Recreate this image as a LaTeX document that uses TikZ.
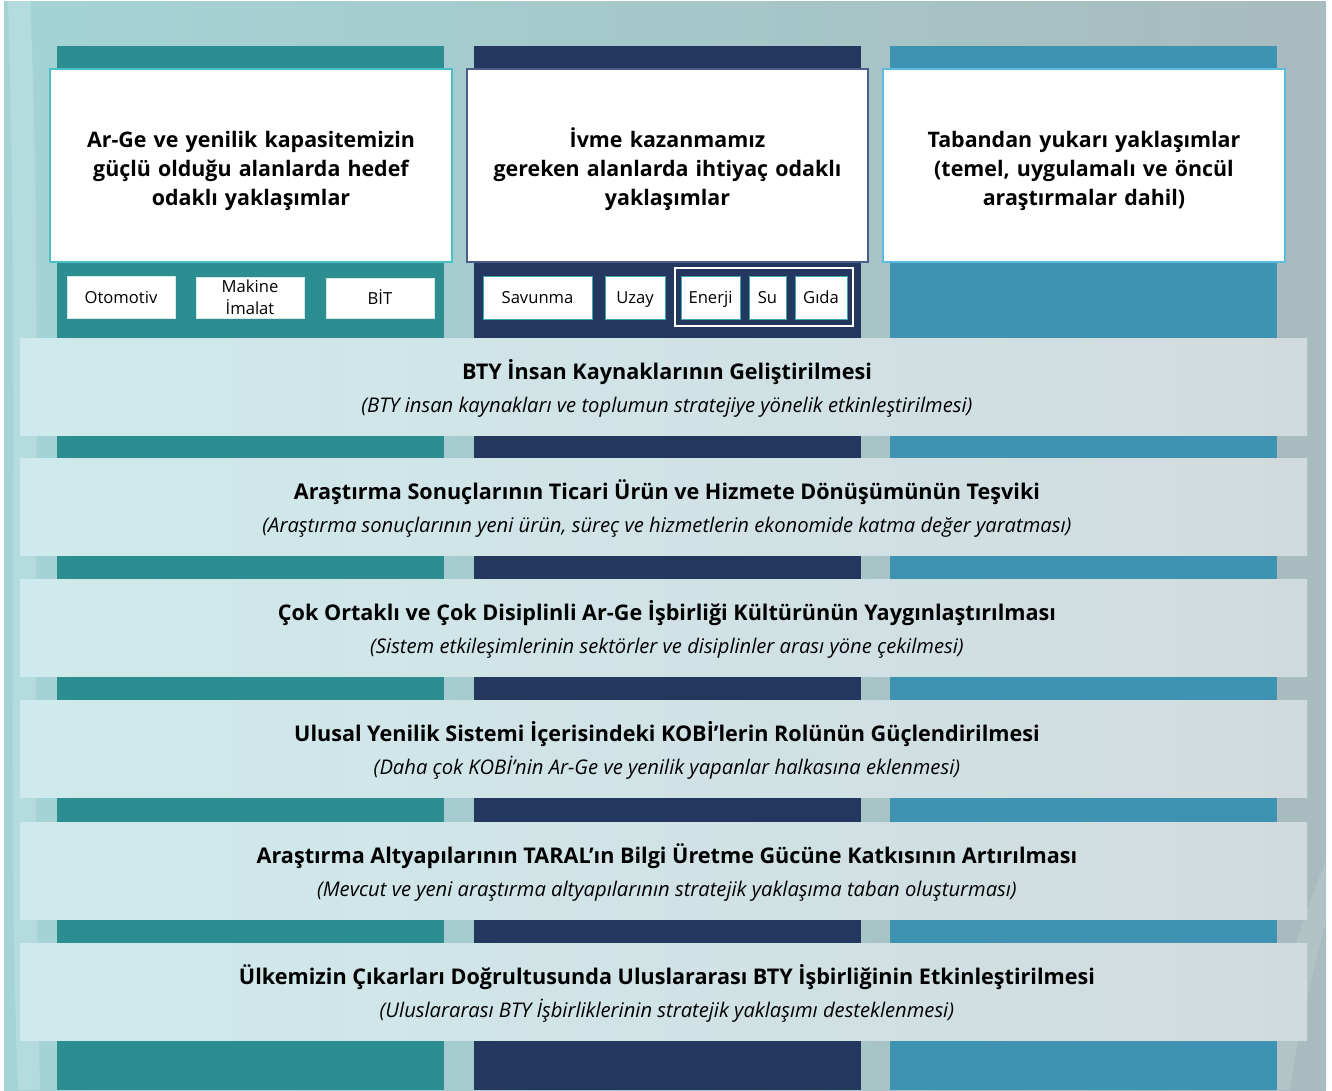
\documentclass[tikz,border=0pt]{standalone}
\usepackage{fontspec}
\setmainfont{Open Sans}
\definecolor{bgA}{HTML}{A4D4D6}
\definecolor{bgB}{HTML}{A4C5C6}
\definecolor{bgC}{HTML}{A8BBBE}
\definecolor{tealc}{HTML}{2C8E91}
\definecolor{navyc}{HTML}{24375E}
\definecolor{bluec}{HTML}{3E93B2}
\definecolor{bandA}{HTML}{CFEAEC}
\definecolor{bandB}{HTML}{D4E2E4}
\definecolor{bandC}{HTML}{D1DBDE}
\definecolor{tealline}{HTML}{4BBFC6}
\definecolor{navyline}{HTML}{4C5C8C}
\definecolor{blueline}{HTML}{5BBBE0}
\definecolor{chipline}{HTML}{3BA9AE}
\tikzset{
  topbox/.style={fill=white, line width=1.2pt, minimum height=193pt, inner sep=0pt},
  toptext/.style={text width=390pt, align=center, inner sep=0pt, font=\bfseries\fontsize{21.4}{29}\selectfont},
  chip/.style={fill=white, line width=1pt, inner sep=0pt, align=center,
    font=\fontsize{16.6}{22}\selectfont},
  chipone/.style={chip, text height=12pt, text depth=0pt},
  band/.style={left color=bandA, middle color=bandB, right color=bandC, minimum width=1287pt, minimum height=97pt, inner sep=0pt},
  btitle/.style={font=\bfseries\fontsize{21.6}{24}\selectfont, inner sep=0pt, anchor=base},
  bsub/.style={font=\itshape\fontsize{20.2}{22}\selectfont, inner sep=0pt, anchor=base},
}
\begin{document}
\begin{tikzpicture}[x=1pt,y=-1pt]
\useasboundingbox (0,0) rectangle (1332,1090);
\fill[white] (0,0) rectangle (1332,1090);
\shade[left color=bgA, middle color=bgB, right color=bgC] (4,1) rectangle (1326,1090);
% faint streaks
\fill[white, opacity=0.18] (8,1) .. controls (20,400) and (6,800) .. (18,1090) -- (40,1090) .. controls (30,700) and (44,300) .. (30,1) -- cycle;
\fill[white, opacity=0.12] (1326,860) .. controls (1290,950) and (1270,1030) .. (1262,1090) -- (1290,1090) .. controls (1300,1020) and (1316,960) .. (1326,920) -- cycle;
% columns
\fill[tealc] (57,46) rectangle (444,1090);
\fill[navyc] (474,46) rectangle (861,1090);
\fill[bluec] (890,46) rectangle (1277,1090);
% top boxes
\node[topbox, draw=tealline, minimum width=402pt] (t1) at (251,165.5) {};
\node[topbox, draw=navyline, minimum width=401pt] (t2) at (667.5,165.5) {};
\node[topbox, draw=blueline, minimum width=402pt] (t3) at (1084,165.5) {};
\node[toptext, yshift=-5pt] (t1l) at (t1.center)
  {Ar-Ge ve yenilik kapasitemizin\\güçlü olduğu alanlarda hedef\\odaklı yaklaşımlar};
\node[toptext, yshift=-4pt] (t2l) at (t2.center)
  {İvme kazanmamız\\gereken alanlarda ihtiyaç odaklı\\yaklaşımlar};
\node[toptext, yshift=-5pt] (t3l) at (t3.center)
  {Tabandan yukarı yaklaşımlar\\(temel, uygulamalı ve öncül\\araştırmalar dahil)};
% chips left
\node[chipone, draw=white!80!tealc, minimum width=108pt, minimum height=42pt] (c1) at (121,297) {Otomotiv};
\node[chip, draw=white!80!tealc, minimum width=108pt, minimum height=41pt] (c2) at (250,297.5) {Makine\\İmalat};
\node[chipone, draw=white!80!tealc, minimum width=108pt, minimum height=40pt] (c3) at (380,298) {BİT};
% chips middle
\node[chipone, draw=chipline, minimum width=109pt, minimum height=43pt] (c4) at (537.5,297.5) {Savunma};
\node[chipone, draw=chipline, minimum width=60pt, minimum height=43pt] (c5) at (635,297.5) {Uzay};
\node[draw=white, line width=1.5pt, minimum width=178pt, minimum height=58pt, inner sep=0pt] (grp) at (764,297) {};
\node[chipone, draw=chipline, minimum width=59pt, minimum height=43pt] (c6) at (710.5,297.5) {Enerji};
\node[chipone, draw=chipline, minimum width=37pt, minimum height=43pt] (c7) at (767.5,297.5) {Su};
\node[chipone, draw=chipline, minimum width=52pt, minimum height=43pt] (c8) at (821,297.5) {Gıda};
% bands
\foreach \i/\y/\t/\s in {
 1/386.5/{BTY İnsan Kaynaklarının Geliştirilmesi}/{(BTY insan kaynakları ve toplumun stratejiye yönelik etkinleştirilmesi)},
 2/507/{Araştırma Sonuçlarının Ticari Ürün ve Hizmete Dönüşümünün Teşviki}/{(Araştırma sonuçlarının yeni ürün, süreç ve hizmetlerin ekonomide katma değer yaratması)},
 3/628/{Çok Ortaklı ve Çok Disiplinli Ar-Ge İşbirliği Kültürünün Yaygınlaştırılması}/{(Sistem etkileşimlerinin sektörler ve disiplinler arası yöne çekilmesi)},
 4/749/{Ulusal Yenilik Sistemi İçerisindeki KOBİ’lerin Rolünün Güçlendirilmesi}/{(Daha çok KOBİ’nin Ar-Ge ve yenilik yapanlar halkasına eklenmesi)},
 5/870.5/{Araştırma Altyapılarının TARAL’ın Bilgi Üretme Gücüne Katkısının Artırılması}/{(Mevcut ve yeni araştırma altyapılarının stratejik yaklaşıma taban oluşturması)},
 6/991.5/{Ülkemizin Çıkarları Doğrultusunda Uluslararası BTY İşbirliğinin Etkinleştirilmesi}/{(Uluslararası BTY İşbirliklerinin stratejik yaklaşımı desteklenmesi)}}
{
 \node[band] (b\i) at (663.5,\y) {};
 \node[btitle] (bt\i) at (667,\y-7.5) {\t};
 \node[bsub] (bs\i) at (667,\y+25.5) {\s};
}
\end{tikzpicture}
\end{document}
